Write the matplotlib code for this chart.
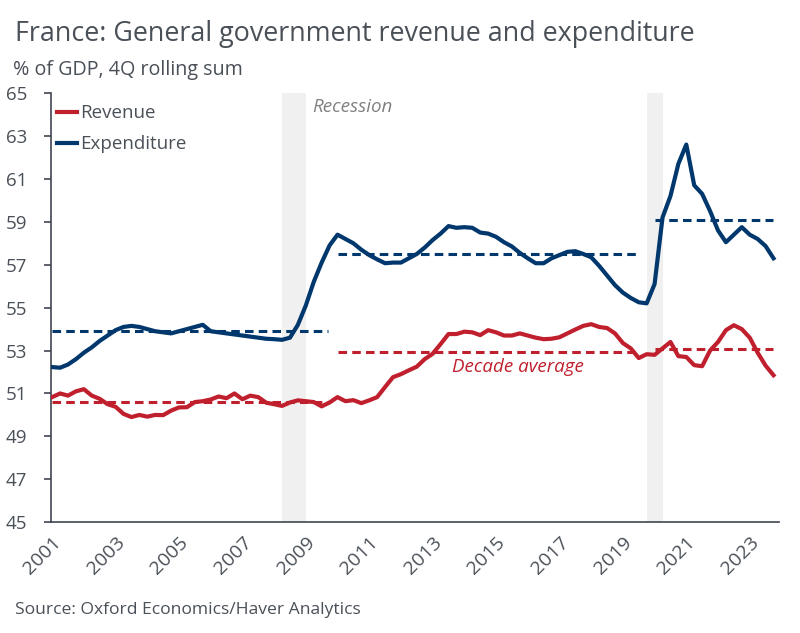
import numpy as np
import matplotlib.pyplot as plt

plt.rcParams['font.family'] = ['Open Sans', 'DejaVu Sans']

# Quarterly data, 2001Q1 - 2023Q4 (% of GDP, 4Q rolling sum)
quarters = np.arange(2001, 2024, 0.25)

revenue = [
    50.83, 51.0, 50.9, 51.1,      # 2001
    51.2, 50.9, 50.75, 50.5,      # 2002
    50.38, 50.05, 49.9, 50.0,     # 2003
    49.92, 50.0, 49.99, 50.2,     # 2004
    50.35, 50.36, 50.6, 50.64,    # 2005
    50.72, 50.86, 50.78, 51.0,    # 2006
    50.73, 50.9, 50.83, 50.57,    # 2007
    50.5, 50.42, 50.58, 50.68,    # 2008
    50.64, 50.6, 50.4, 50.58,     # 2009
    50.83, 50.64, 50.69, 50.55,   # 2010
    50.68, 50.83, 51.3, 51.76,    # 2011
    51.9, 52.08, 52.25, 52.6,     # 2012
    52.85, 53.3, 53.77, 53.77,    # 2013
    53.88, 53.85, 53.72, 53.95,   # 2014
    53.85, 53.7, 53.7, 53.8,      # 2015
    53.7, 53.6, 53.53, 53.55,     # 2016
    53.62, 53.8, 53.98, 54.15,    # 2017
    54.23, 54.1, 54.05, 53.8,     # 2018
    53.35, 53.1, 52.65, 52.83,    # 2019
    52.8, 53.1, 53.4, 52.74,      # 2020
    52.7, 52.32, 52.27, 53.0,     # 2021
    53.4, 53.95, 54.18, 54.0,     # 2022
    53.6, 52.9, 52.3, 51.85,      # 2023
]

expenditure = [
    52.23, 52.2, 52.35, 52.6,     # 2001
    52.9, 53.15, 53.45, 53.7,     # 2002
    53.95, 54.1, 54.15, 54.1,     # 2003
    54.0, 53.9, 53.85, 53.8,      # 2004
    53.9, 54.0, 54.1, 54.2,       # 2005
    53.9, 53.85, 53.8, 53.75,     # 2006
    53.7, 53.65, 53.6, 53.55,     # 2007
    53.53, 53.5, 53.6, 54.2,      # 2008
    55.1, 56.2, 57.1, 57.9,       # 2009
    58.4, 58.2, 58.0, 57.7,       # 2010
    57.45, 57.25, 57.07, 57.1,    # 2011
    57.1, 57.3, 57.5, 57.8,       # 2012
    58.15, 58.45, 58.8, 58.72,    # 2013
    58.75, 58.72, 58.5, 58.45,    # 2014
    58.3, 58.05, 57.85, 57.55,    # 2015
    57.3, 57.07, 57.07, 57.3,     # 2016
    57.45, 57.6, 57.63, 57.5,     # 2017
    57.35, 56.95, 56.5, 56.05,    # 2018
    55.7, 55.45, 55.25, 55.2,     # 2019
    56.1, 59.2, 60.2, 61.7,       # 2020
    62.6, 60.7, 60.3, 59.5,       # 2021
    58.6, 58.05, 58.4, 58.75,     # 2022
    58.4, 58.2, 57.87, 57.3,      # 2023
]

# Decade averages
decade_start = [2001, 2010, 2020]
decade_end = [2009.7, 2019.4, 2023.75]
revenue_avg = [50.6, 52.95, 53.05]
expenditure_avg = [53.9, 57.5, 59.1]

# Recessions
recessions = [(2008.25, 2009.0), (2019.75, 2020.25)]

red = '#C0202D'
blue = '#00376C'
text_col = '#4A5058'

fig = plt.figure(figsize=(8, 6.33), dpi=100)
ax = fig.add_axes([0.064, 0.175, 0.91, 0.678])

for start, end in recessions:
    ax.axvspan(start, end, color='#F0F0F0', lw=0, zorder=0)

ax.plot(quarters, revenue, color=red, lw=3, label='Revenue', zorder=3)
ax.plot(quarters, expenditure, color=blue, lw=3, label='Expenditure', zorder=3)

for s, e, rv, ex in zip(decade_start, decade_end, revenue_avg, expenditure_avg):
    ax.plot([s, e], [rv, rv], color=red, lw=2.2, dashes=(2.8, 1.7), zorder=2)
    ax.plot([s, e], [ex, ex], color=blue, lw=2.2, dashes=(2.8, 1.7), zorder=2)

ax.text(2009.2, 64.35, 'Recession', style='italic', color='#808080',
        fontsize=13.5, va='center', ha='left')
ax.text(2015.7, 52.23, 'Decade average', style='italic', color=red,
        fontsize=13.5, va='center', ha='center')

ax.set_ylim(45, 65)
ax.set_yticks(np.arange(45, 66, 2))
ax.set_xlim(2000.97, 2023.93)
ax.set_xticks(np.arange(2001, 2024, 2))
ax.set_xticklabels([str(y) for y in range(2001, 2024, 2)], rotation=45,
                   ha='right', va='top', rotation_mode='anchor')

for side in ['top', 'right']:
    ax.spines[side].set_visible(False)
for side in ['left', 'bottom']:
    ax.spines[side].set_color('#3F4651')
    ax.spines[side].set_linewidth(1.2)

ax.tick_params(axis='y', length=5, width=1.2, color='#3F4651', pad=12,
               labelsize=13.5, labelcolor=text_col)
ax.tick_params(axis='x', length=0, pad=8, labelsize=14, labelcolor=text_col)

ax.legend(loc='upper left', bbox_to_anchor=(-0.007, 1.0), frameon=False,
          fontsize=13.5, handlelength=1.05, handletextpad=0.15, labelspacing=0.7,
          borderaxespad=0.2, labelcolor=text_col)

fig.text(0.019, 0.947, 'France: General government revenue and expenditure',
         fontsize=19.4, color=text_col, va='center', ha='left')
fig.text(0.016, 0.889, '% of GDP, 4Q rolling sum', fontsize=14.2,
         color=text_col, va='center', ha='left')
fig.text(0.019, 0.037, 'Source: Oxford Economics/Haver Analytics', fontsize=12.6,
         color=text_col, va='center', ha='left')

plt.savefig('out.png', dpi=100)
